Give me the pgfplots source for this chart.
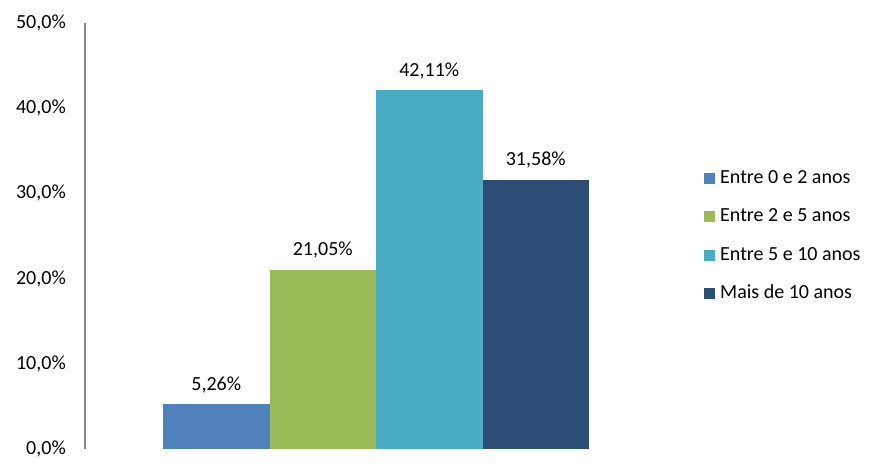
\documentclass[border=0pt]{standalone}
\usepackage{pgfplots}
\pgfplotsset{compat=1.18}
\usepackage{fontspec}
\setmainfont{Carlito}
\definecolor{c1}{HTML}{4F81BD}
\definecolor{c2}{HTML}{9BBB59}
\definecolor{c3}{HTML}{4BACC6}
\definecolor{c4}{HTML}{2C4D75}
\definecolor{axgray}{HTML}{868686}
\begin{document}
\begin{tikzpicture}
\path[use as bounding box] (0,0) rectangle (886pt,472pt);
\begin{axis}[
  at={(85pt,23pt)}, anchor=south west,
  scale only axis, width=582pt, height=426pt,
  font=\fontsize{20}{24}\selectfont,
  ybar=0pt, bar width=106.5pt,
  xmin=-1, xmax=1, ymin=0, ymax=50,
  axis x line=none, axis y line*=left,
  y axis line style={-, draw=axgray, line width=1.5pt},
  ytick={0,10,20,30,40,50},
  major tick length=0pt,
  /pgf/number format/assume math mode=true,
  yticklabel={\pgfmathprintnumber[fixed,fixed zerofill,precision=1,use comma]{\tick}\%},
  yticklabel style={anchor=east, inner sep=0pt, xshift=-19pt},
  nodes near coords={\pgfmathprintnumber[fixed,fixed zerofill,precision=2,use comma,assume math mode=true]{\pgfplotspointmeta}\%},
  every node near coord/.append style={anchor=base, inner sep=0pt, yshift=14pt, text=black},
  legend style={at={(1,0.5)}, anchor=west, xshift=34pt, draw=none, fill=none,
    row sep=20.5pt, nodes={inner sep=0pt, text height=14pt, text depth=4pt},
    /tikz/every odd column/.append style={column sep=5pt}},
  legend cell align=left,
  legend image code/.code={\fill[#1] (0pt,-5.5pt) rectangle (11pt,5.5pt);},
]
\addplot[fill=c1, draw=none] coordinates {(0,5.26)};
\addplot[fill=c2, draw=none] coordinates {(0,21.05)};
\addplot[fill=c3, draw=none] coordinates {(0,42.11)};
\addplot[fill=c4, draw=none] coordinates {(0,31.58)};
\legend{Entre 0 e 2 anos, Entre 2 e 5 anos, Entre 5 e 10 anos, Mais de 10 anos}
\end{axis}
\end{tikzpicture}
\end{document}
